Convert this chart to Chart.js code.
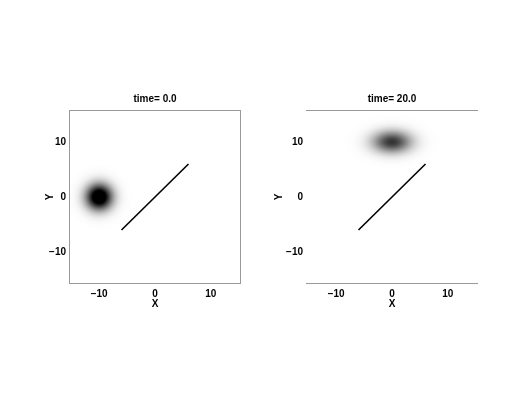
<!DOCTYPE html>
<html>
<head>
<meta charset="utf-8">
<script src="https://cdn.jsdelivr.net/npm/chart.js@4/dist/chart.umd.min.js"></script>
<style>
  html, body { margin: 0; padding: 0; background: #fff; }
  #wrap { position: relative; width: 529px; height: 409px; }
  canvas { position: absolute; top: 0; }
</style>
</head>
<body>
<div id="wrap">
  <canvas id="left" width="264" height="409" style="left:0"></canvas>
  <canvas id="right" width="265" height="409" style="left:264px"></canvas>
</div>
<script>
// panel titles
const titles = ['time= 0.0', 'time= 20.0'];
// tick labels shared by both axes
const tickValues = [-10, 0, 10];
// the straight segment
const lineX = [-6, 6];
const lineY = [-6, 6];
// gaussian blob per panel: centre, spread (data units), peak darkness
const blobX = [-10, 0];
const blobY = [0, 10];
const blobSx = [2.3, 3.4];
const blobSy = [2.3, 1.95];
const blobPeak = [1.3, 0.8];

const font = { family: 'Liberation Sans, Arial, sans-serif', size: 10, weight: 'bold' };

// draws the blob as a radial gradient, sized through the chart scales
const blobPlugin = {
  id: 'blob',
  beforeDatasetsDraw(chart, args, opts) {
    const i = opts.index;
    const { ctx, chartArea, scales: { x, y } } = chart;
    const cx = x.getPixelForValue(blobX[i]);
    const cy = y.getPixelForValue(blobY[i]);
    const rx = Math.abs(x.getPixelForValue(blobX[i] + blobSx[i]) - cx);
    const ry = Math.abs(y.getPixelForValue(blobY[i] + blobSy[i]) - cy);
    const R = 3; // gradient radius in sigmas
    ctx.save();
    ctx.beginPath();
    ctx.rect(chartArea.left, chartArea.top, chartArea.right - chartArea.left, chartArea.bottom - chartArea.top);
    ctx.clip();
    ctx.translate(cx, cy);
    ctx.scale(rx, ry);
    const g = ctx.createRadialGradient(0, 0, 0, 0, 0, R);
    for (let k = 0; k <= 30; k++) {
      const t = k / 30;
      const a = Math.min(1, blobPeak[i] * Math.exp(-(t * R) * (t * R)));
      g.addColorStop(t, 'rgba(0,0,0,' + a.toFixed(4) + ')');
    }
    ctx.fillStyle = g;
    ctx.beginPath();
    ctx.arc(0, 0, R, 0, Math.PI * 2);
    ctx.fill();
    ctx.restore();
  },
  afterDraw(chart, args, opts) {
    const { ctx, chartArea: a } = chart;
    ctx.save();
    ctx.strokeStyle = '#999';
    ctx.lineWidth = 1;
    if (opts.box) {
      ctx.strokeRect(a.left + 0.5, a.top + 0.5, a.right - a.left - 1, a.bottom - a.top - 1);
    } else {
      ctx.beginPath();
      ctx.moveTo(a.left, a.top + 0.5); ctx.lineTo(a.right, a.top + 0.5);
      ctx.moveTo(a.left, a.bottom - 0.5); ctx.lineTo(a.right, a.bottom - 0.5);
      ctx.stroke();
    }
    ctx.restore();
  }
};

function makePanel(id, i, yWidth, rightPad, yTitlePad, box) {
  new Chart(document.getElementById(id), {
    type: 'scatter',
    data: {
      datasets: [{
        data: lineX.map((v, k) => ({ x: v, y: lineY[k] })),
        showLine: true,
        borderColor: '#000',
        borderWidth: 1.6,
        pointRadius: 0
      }]
    },
    plugins: [blobPlugin],
    options: {
      responsive: false,
      animation: false,
      layout: { padding: { left: 0, right: rightPad, top: 0, bottom: 95 } },
      plugins: {
        legend: { display: false },
        tooltip: { enabled: false },
        title: {
          display: true,
          text: titles[i],
          fullSize: false,
          color: '#000',
          font: font,
          padding: { top: 93, bottom: 5 }
        },
        blob: { index: i, box: box }
      },
      scales: {
        x: {
          type: 'linear',
          min: -15.4, max: 15.4,
          afterBuildTicks: s => { s.ticks = tickValues.map(v => ({ value: v })); },
          afterFit: s => { s.height = 30; },
          grid: { display: false, drawTicks: false },
          border: { display: false },
          ticks: {
            color: '#000', font: font, padding: 4, maxRotation: 0,
            callback: v => String(v).replace('-', '\u2212')
          },
          title: { display: true, text: 'X', color: '#000', font: font, padding: { top: 0, bottom: 4 } }
        },
        y: {
          type: 'linear',
          min: -15.8, max: 15.8,
          afterBuildTicks: s => { s.ticks = tickValues.map(v => ({ value: v })); },
          afterFit: s => { s.width = yWidth; },
          grid: { display: false, drawTicks: false },
          border: { display: false },
          ticks: {
            color: '#000', font: font, padding: 3,
            callback: v => String(v).replace('-', '\u2212')
          },
          title: { display: true, text: 'Y', color: '#000', font: font, padding: { top: yTitlePad + 1.5, bottom: 0 } }
        }
      }
    }
  });
}

makePanel('left', 0, 69, 23, 43, true);
makePanel('right', 1, 42, 51, 7.5, false);
</script>
</body>
</html>
